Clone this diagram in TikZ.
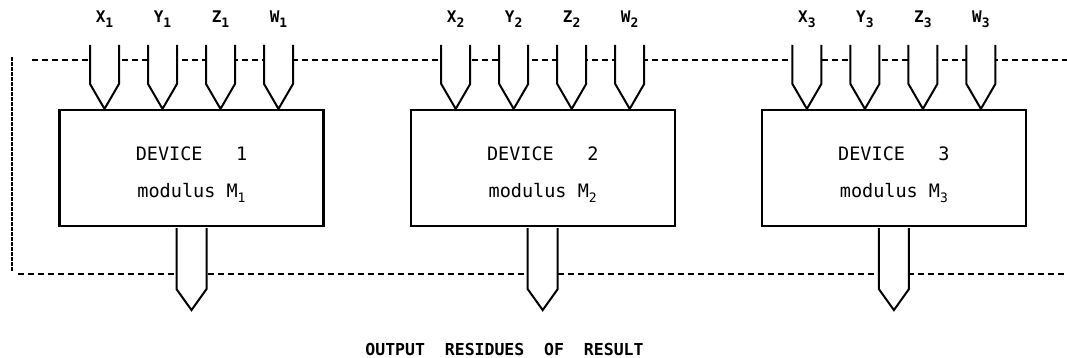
\documentclass[tikz,border=0pt]{standalone}
\usepackage{fontspec}
\setmonofont{DejaVu Sans Mono}
\usetikzlibrary{positioning}

\newcommand{\idx}[1]{\raisebox{-0.5ex}{\fontsize{13}{13}\selectfont #1}}

\begin{document}
\begin{tikzpicture}[
x=1pt,y=1pt,
node distance=85pt,
box/.style={rectangle,draw,line width=2.2pt,minimum width=264pt,minimum height=116pt},
devtext/.style={align=center,font=\ttfamily\fontsize{18.5}{37}\selectfont},
pin/.style={draw,fill=white,line width=2pt,line join=miter},
pinlabel/.style={font=\ttfamily\bfseries\fontsize{16}{18}\selectfont,inner sep=0pt},
bus/.style={line width=1.8pt,dash pattern=on 6pt off 4pt},
busv/.style={line width=2.2pt,dash pattern=on 3.5pt off 1.5pt}
]
\useasboundingbox (0,0) rectangle (1067,357);

% dashed lines
\coordinate (topL) at (32,297);
\coordinate (topR) at (1067,297);
\coordinate (botL) at (18,83);
\coordinate (botR) at (1067,83);
\coordinate (cornT) at (12,300);
\coordinate (cornB) at (12,85);
\draw[bus] (topL) -- (topR);
\draw[bus] (botL) -- (botR);
\draw[busv] (cornT) -- (cornB);

\node[box] (dev1) at (191.5,189) {};
\node[box, right=of dev1] (dev2) {};
\node[box, right=of dev2] (dev3) {};

\foreach \d in {1,2,3}{
  \node[devtext] (t\d) at ([yshift=-7pt]dev\d.center) {DEVICE~~~\d\\modulus M\idx{\d}};
  \foreach \l [count=\i] in {X,Y,Z,W}{
    \coordinate (in\d\i) at ([xshift={(\i-2.5)*58pt}]dev\d.north);
    \draw[pin] (in\d\i) ++(-14.5,64) -- ++(0,-39) -- (in\d\i) -- ++(14.5,25) -- ++(0,39);
    \node[pinlabel, anchor=base] (l\d\i) at ([yshift=86pt]in\d\i) {\l\idx{\d}};
  }
  \coordinate (out\d) at ([yshift=-83pt]dev\d.south);
  \draw[pin] (dev\d.south) ++(-15,-1) -- ++(0,-61) -- (out\d) -- ++(15,21) -- ++(0,61);
}

\node[font=\ttfamily\bfseries\fontsize{16.5}{19}\selectfont] (res) at (504.5,8) {OUTPUT~~RESIDUES~~OF~~RESULT};
\end{tikzpicture}
\end{document}
